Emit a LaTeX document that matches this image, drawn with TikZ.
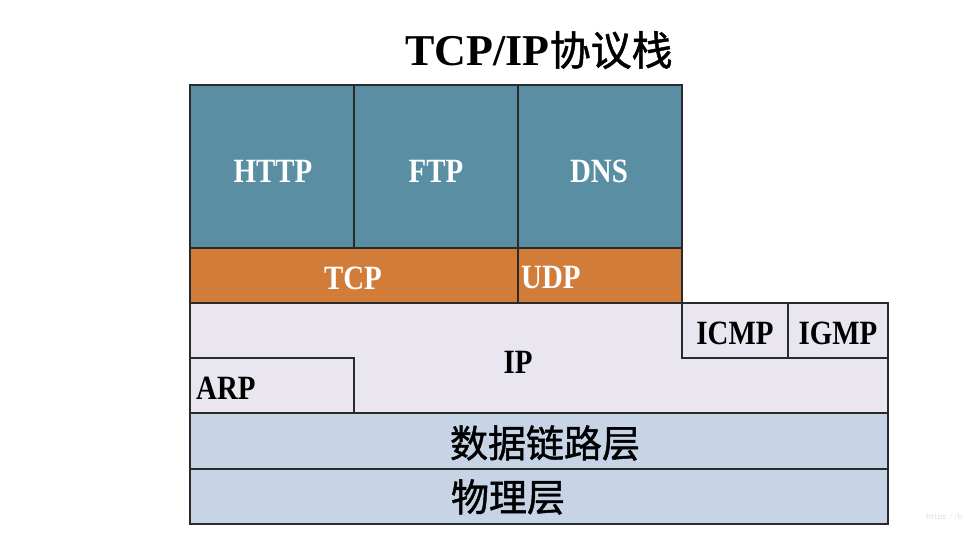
\documentclass[tikz,border=0pt]{standalone}
\usepackage{fontspec}
\setmainfont{Liberation Serif}
\newfontfamily\cjk[FakeBold=1.2]{Noto Sans CJK SC}
\newfontfamily\lat[FakeStretch=0.85]{Liberation Serif}
\definecolor{appc}{HTML}{5A8EA2}
\definecolor{trc}{HTML}{D27C3A}
\definecolor{ipc}{HTML}{E9E6EF}
\definecolor{linkc}{HTML}{C6D4E6}
\definecolor{edgec}{HTML}{2A2A2A}
\tikzset{
  box/.style={draw=edgec, line width=1.2pt},
  wlab/.style={text=white, font=\lat\bfseries\fontsize{34}{34}\selectfont, inner sep=0pt},
  blab/.style={text=black, font=\lat\bfseries\fontsize{34}{34}\selectfont, inner sep=0pt},
  clab/.style={text=black, font=\cjk\fontsize{38}{38}\selectfont, inner sep=0pt},
}
\begin{document}
\begin{tikzpicture}[x=1pt,y=-1pt]
\useasboundingbox[fill=white] (0,0) rectangle (969,552);
% application layer
\draw[box, fill=appc] (190,85) rectangle (354,248);
\draw[box, fill=appc] (354,85) rectangle (518,248);
\draw[box, fill=appc] (518,85) rectangle (682,248);
% transport layer
\draw[box, fill=trc] (190,248) rectangle (518,303);
\draw[box, fill=trc] (518,248) rectangle (682,303);
% network layer
\draw[box, fill=ipc] (190,303) -- (682,303) -- (682,358) -- (888,358) -- (888,413) -- (354,413) -- (354,358) -- (190,358) -- cycle;
\draw[box, fill=ipc] (682,303) rectangle (788,358);
\draw[box, fill=ipc] (788,303) rectangle (888,358);
\draw[box, fill=ipc] (190,358) rectangle (354,413);
% link and physical
\draw[box, fill=linkc] (190,413) rectangle (888,469);
\draw[box, fill=linkc] (190,469) rectangle (888,524);
% labels
\node (title) at (539,50) {\fontsize{44}{44}\selectfont\bfseries TCP/IP{\cjk\mdseries\fontsize{41}{41}\selectfont 协议栈}};
\node[wlab] (http) at (273,171) {HTTP};
\node[wlab] (ftp) at (436,171) {FTP};
\node[wlab] (dns) at (599,171) {DNS};
\node[wlab] (tcp) at (353,278) {TCP};
\node[wlab, anchor=west] (udp) at (521,278) {UDP};
\node[blab] (ip) at (518,362) {IP};
\node[blab] (icmp) at (735,333) {ICMP};
\node[blab] (igmp) at (838,333) {IGMP};
\node[blab, anchor=west] (arp) at (196,388) {ARP};
\node[clab] (dl) at (545,443) {数据链路层};
\node[clab] (ph) at (508,497) {物理层};
\node[text=black!12, font=\sffamily\fontsize{9}{9}\selectfont, anchor=east] (wm) at (966,517) {https://b};
\end{tikzpicture}
\end{document}
